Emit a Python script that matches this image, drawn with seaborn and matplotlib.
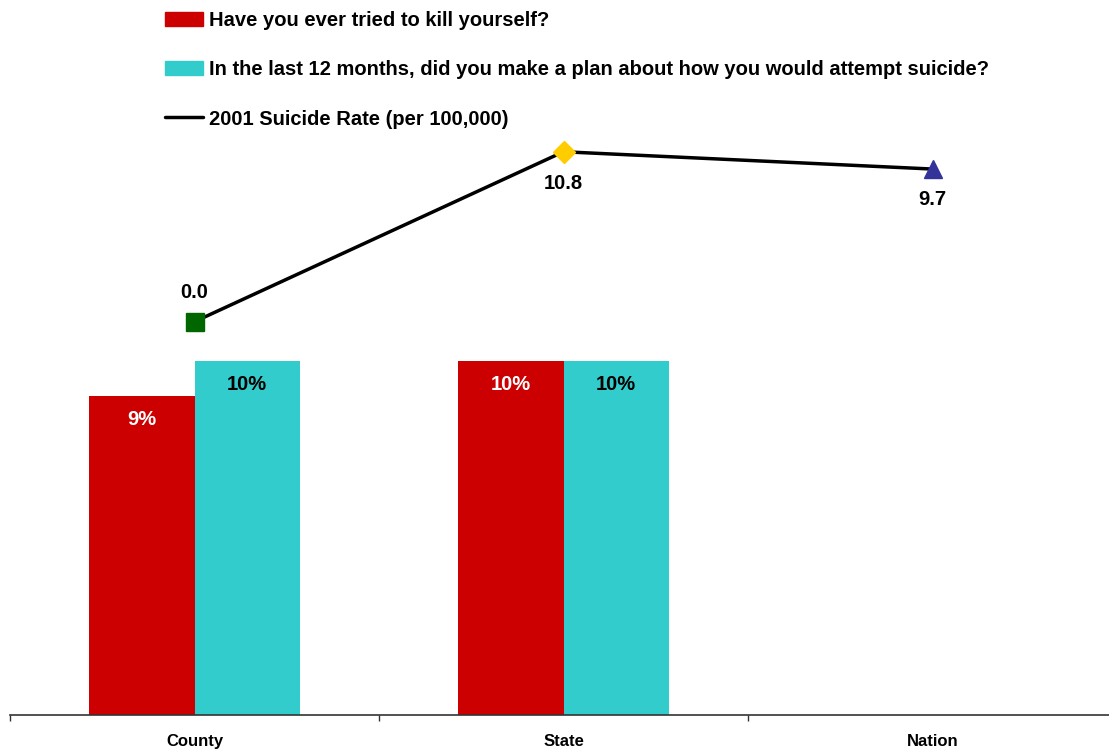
import numpy as np
import pandas as pd
import seaborn as sns
import matplotlib.pyplot as plt
from matplotlib.patches import Patch
from matplotlib.lines import Line2D

# Datos ------------------------------------------------------------------
categories = ['County', 'State', 'Nation']
series_names = ['Have you ever tried to kill yourself?',
                'In the last 12 months, did you make a plan about how you would attempt suicide?']
tried = [9, 10, np.nan]
plan = [10, 10, np.nan]
rate_label = '2001 Suicide Rate (per 100,000)'
rates = [0.0, 10.8, 9.7]

bar_colors = ['#CC0000', '#33CCCC']
marker_colors = ['#006600', '#FFCC00', '#333399']
marker_shapes = ['s', 'D', '^']

df = pd.DataFrame({
    'Area': categories * 2,
    'Pregunta': [series_names[0]] * 3 + [series_names[1]] * 3,
    'Valor': tried + plan,
})

sns.set_style('white')
plt.rcParams['font.family'] = ['Liberation Sans', 'DejaVu Sans']
plt.rcParams['font.weight'] = 'bold'
plt.rcParams['text.color'] = 'black'
plt.rcParams['xtick.color'] = 'black'

fig = plt.figure(figsize=(11.09, 7.5), dpi=100)
ax = fig.add_axes([10 / 1109, 35 / 750, 1107 / 1109, 708 / 750])

sns.barplot(data=df, x='Area', y='Valor', hue='Pregunta', order=categories,
            hue_order=series_names, palette=bar_colors, width=0.57, gap=0,
            saturation=1, linewidth=0, legend=False, ax=ax)
ax.set_ylim(0, 20)
ax.set_xlim(-0.5, 2.5)
ax.set_xlabel('')
ax.set_ylabel('')
ax.set_yticks([])
ax.set_xticks([-0.5, 0.5, 1.5], minor=True)
ax.set_xticks(range(3))
ax.set_xticklabels(categories, fontsize=12, fontweight='bold', color='black')
ax.tick_params(axis='x', which='major', length=0, pad=14)
ax.tick_params(axis='x', which='minor', length=4, width=1, color='#333333', direction='out', bottom=True)
for s in ['top', 'right', 'left']:
    ax.spines[s].set_visible(False)
ax.spines['bottom'].set_color('#333333')
ax.spines['bottom'].set_linewidth(1.2)

# Etiquetas de las barras
for container, txt_color in zip(ax.containers, ['white', 'black']):
    for bar in container:
        h = bar.get_height()
        if np.isnan(h) or h == 0:
            continue
        ax.annotate(f'{h:.0f}%', (bar.get_x() + bar.get_width() / 2, h),
                    xytext=(0, -10), textcoords='offset points',
                    ha='center', va='top', color=txt_color,
                    fontsize=14.5, fontweight='bold')

# Línea de la tasa de suicidio
ax2 = ax.twinx()
ax2.set_ylim(-25, 20)
sns.lineplot(x=range(3), y=rates, color='black', linewidth=2.5, ax=ax2)
label_offsets = [21, -23, -22]
for i, (r, c, m) in enumerate(zip(rates, marker_colors, marker_shapes)):
    ax2.plot(i, r, marker=m, color=c, markersize=13 if m != 'D' else 11,
             linestyle='none', zorder=5)
    ax2.annotate(f'{r:.1f}', (i, r), xytext=(0, label_offsets[i]), textcoords='offset points',
                 ha='center', va='center', fontsize=14.5, fontweight='bold', color='black')
ax2.set_yticks([])
ax2.set_ylabel('')
for s in ax2.spines.values():
    s.set_visible(False)

handles = [Patch(color=bar_colors[0]), Patch(color=bar_colors[1]),
           Line2D([0], [0], color='black', linewidth=2.5)]
fig.legend(handles, series_names + [rate_label], loc='upper left',
           bbox_to_anchor=(147 / 1109, 1.0 + 7 / 750), frameon=False,
           prop={'size': 14.5, 'weight': 'bold'}, handlelength=1.9,
           handleheight=0.7, handletextpad=0.3, labelspacing=1.5)

fig.savefig('out.png', dpi=100)
